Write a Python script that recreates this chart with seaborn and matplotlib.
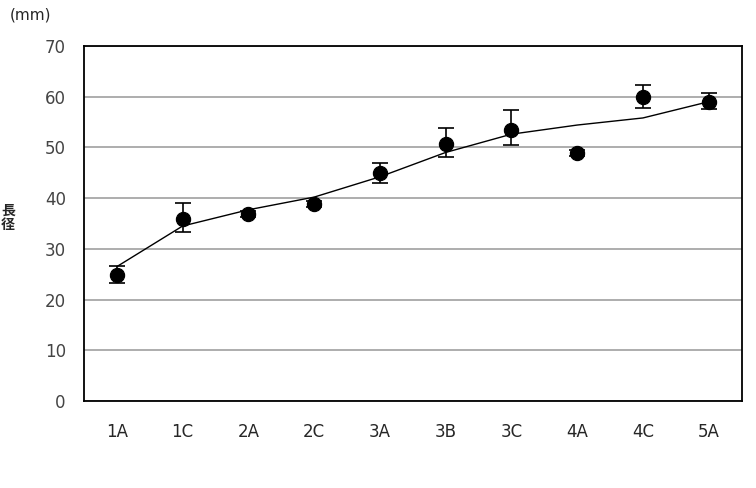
import numpy as np
import pandas as pd
import seaborn as sns
import matplotlib.pyplot as plt

# values
stages = ['1A', '1C', '2A', '2C', '3A', '3B', '3C', '4A', '4C', '5A']
mean_mm = [24.8, 35.8, 36.8, 38.8, 45.0, 50.6, 53.5, 48.9, 60.0, 59.0]
err_low = [1.5, 2.4, 0.6, 0.6, 2.0, 2.5, 3.0, 0.6, 2.2, 1.4]
err_high = [1.8, 3.2, 0.6, 0.6, 2.0, 3.2, 3.9, 0.6, 2.3, 1.7]
trend_mm = [26.5, 34.5, 37.7, 40.2, 44.2, 49.0, 52.6, 54.4, 55.8, 59.0]

sns.set_style('white')
plt.rcParams['font.family'] = ['DejaVu Sans', 'Noto Sans CJK JP']

df = pd.DataFrame({'stage': stages, 'mean': mean_mm, 'trend': trend_mm})
df['pos'] = np.arange(len(stages))

fig = plt.figure(figsize=(7.56, 4.88), dpi=100)
ax = fig.add_axes([0.111, 0.178, 0.870, 0.728])

ax.yaxis.grid(True, color='#a0a0a0', linewidth=1.2)
ax.set_axisbelow(True)

sns.lineplot(data=df, x='pos', y='trend', color='black', linewidth=1.0, ax=ax)
ax.errorbar(df['pos'], df['mean'], yerr=[err_low, err_high], fmt='none',
            ecolor='black', elinewidth=1.2, capsize=6, capthick=1.2, zorder=3)
sns.scatterplot(data=df, x='pos', y='mean', color='black', s=105,
                edgecolor='black', ax=ax, zorder=4)

ax.set_xlim(-0.5, 9.5)
ax.set_ylim(0, 70)
ax.set_xticks(df['pos'])
ax.set_xticklabels(stages, fontsize=12)
ax.set_yticks(range(0, 71, 10))
ax.tick_params(axis='y', labelsize=12, labelcolor='#444444', pad=13, length=0)
ax.tick_params(axis='x', pad=16, length=0)
ax.set_xlabel('')
ax.set_ylabel('')
for s in ax.spines.values():
    s.set_visible(True)
    s.set_color('black')
    s.set_linewidth(1.3)

fig.text(10 / 756, 1 - 15 / 488, '(mm)', fontsize=11, va='center', ha='left')
fig.text(1 / 756, 1 - 218 / 488, '長\n径', fontsize=10, fontweight='bold',
         ha='left', va='center', linespacing=1.0)

fig.savefig('out.png', dpi=100)
